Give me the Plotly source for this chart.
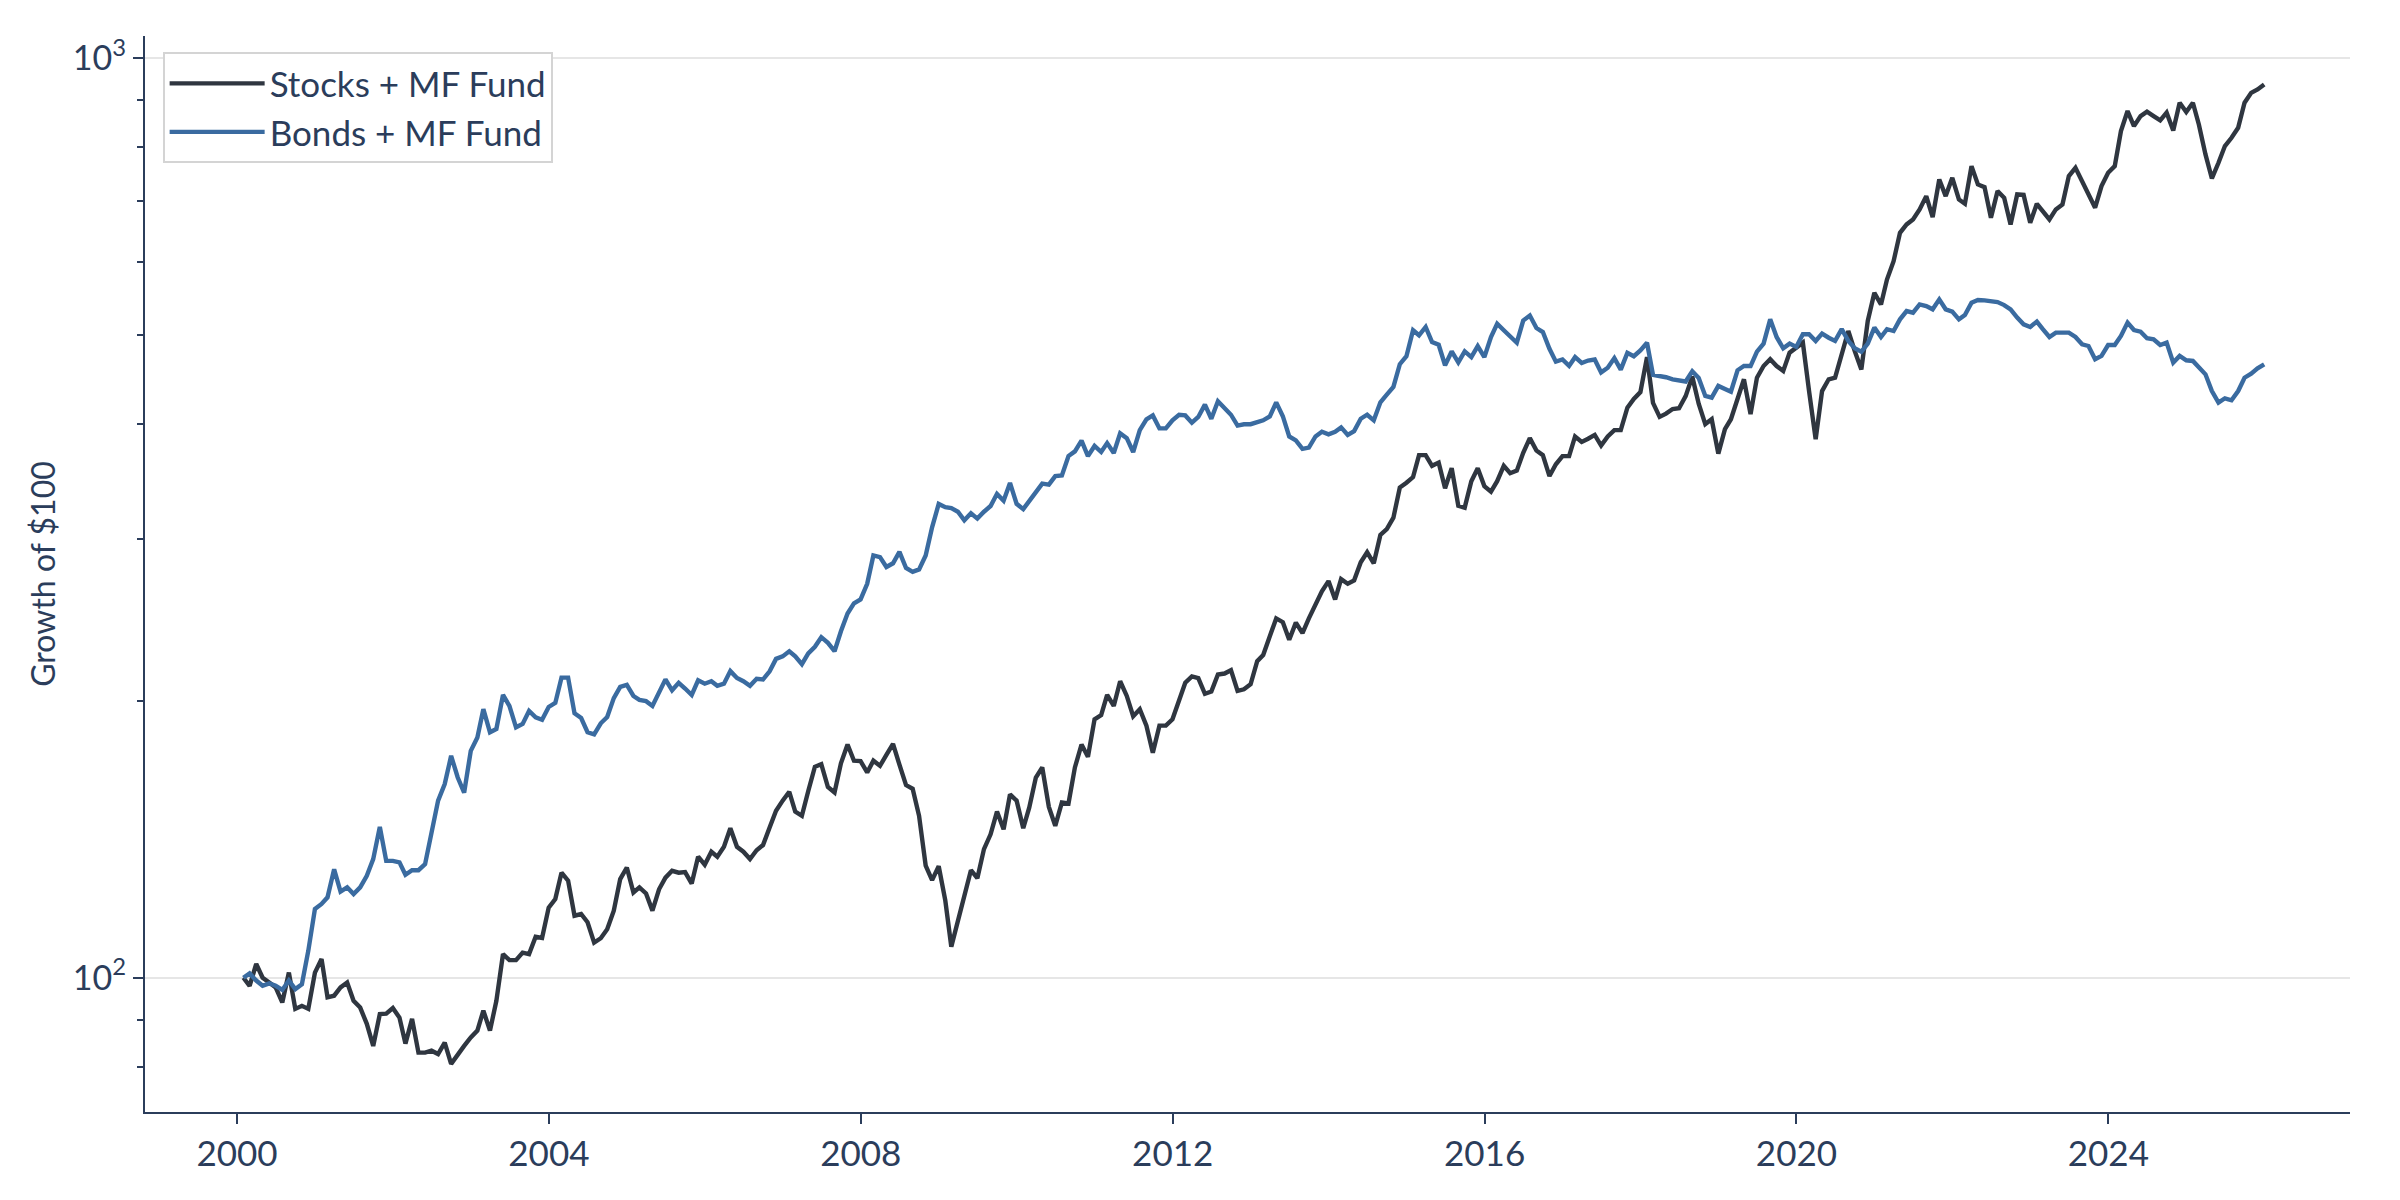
import pandas as pd
import plotly.graph_objects as go

# Monthly growth of $100, month-ends Jan-2000 .. Dec-2025
START = "2000-01-31"

stocks = [
    100.0, 98.0, 103.5, 100.0, 98.8, 97.6, 94.0, 101.3, 92.5, 93.2, 92.5, 101.3,
    104.8, 95.2, 95.6, 97.6, 98.8, 94.4, 92.8, 89.1, 84.3, 91.3, 91.4, 92.7,
    90.5, 84.8, 90.2, 82.9, 82.9, 83.3, 82.6, 85.0, 80.6, 82.6, 84.3, 86.1,
    87.6, 92.1, 87.6, 94.4, 106.1, 104.5, 104.5, 106.5, 106.1, 110.8, 110.5, 119.2,
    121.8, 130.1, 127.5, 116.8, 117.3, 114.9, 109.2, 110.4, 112.9, 118.3, 128.0, 131.8,
    123.8, 125.4, 123.5, 118.3, 124.8, 128.5, 130.7, 130.1, 130.3, 126.6, 135.4, 132.7,
    137.1, 135.4, 138.8, 145.4, 138.8, 137.1, 134.6, 137.6, 139.4, 145.7, 151.9, 155.8,
    159.3, 151.6, 150.0, 159.6, 169.6, 170.7, 161.2, 159.0, 171.1, 179.3, 172.2, 172.0,
    167.2, 172.2, 170.0, 174.7, 179.6, 170.5, 162.0, 160.5, 150.0, 132.4, 127.7, 132.2,
    121.3, 108.1, 114.9, 122.8, 130.9, 128.3, 138.0, 143.2, 151.6, 145.0, 158.3, 155.8,
    145.4, 153.1, 165.1, 169.3, 153.4, 146.3, 155.1, 154.7, 169.3, 179.3, 173.9, 191.0,
    193.0, 203.0, 197.5, 210.1, 202.5, 192.5, 195.9, 188.0, 175.7, 188.0, 188.0, 191.0,
    199.9, 209.3, 212.7, 211.8, 203.6, 204.8, 213.7, 214.2, 216.0, 205.1, 205.9, 208.5,
    220.9, 224.4, 235.2, 245.9, 243.6, 233.1, 243.3, 237.0, 245.9, 254.9, 263.1, 270.0,
    257.9, 271.3, 268.2, 270.5, 283.0, 290.2, 282.3, 303.1, 307.6, 316.5, 341.2, 345.4,
    350.3, 370.1, 370.1, 360.3, 363.2, 340.6, 358.2, 326.0, 324.5, 346.7, 358.2, 342.5,
    337.8, 346.7, 360.3, 353.7, 356.0, 372.2, 386.2, 374.4, 370.1, 351.2, 361.7, 369.2,
    369.2, 387.8, 382.5, 385.6, 389.3, 379.1, 387.8, 394.0, 394.0, 416.8, 426.1, 433.4,
    473.0, 421.8, 407.3, 410.6, 415.4, 416.2, 429.0, 450.5, 421.0, 400.0, 404.9, 371.5,
    395.0, 404.9, 427.4, 447.5, 410.1, 449.3, 462.6, 470.5, 462.6, 456.9, 478.4, 484.4,
    490.5, 434.5, 385.1, 434.5, 447.5, 449.3, 478.4, 505.0, 480.4, 458.7, 517.8, 555.7,
    539.7, 574.5, 601.5, 645.8, 659.5, 667.8, 684.7, 707.9, 671.8, 738.0, 707.9, 741.1,
    702.1, 694.5, 763.1, 728.9, 724.0, 670.6, 716.8, 705.0, 659.5, 710.9, 710.0, 662.2,
    694.5, 681.8, 667.8, 684.7, 693.3, 744.3, 759.9, 734.9, 710.9, 687.6, 725.8, 750.6,
    763.1, 833.1, 876.0, 843.6, 865.0, 874.6, 865.0, 855.7, 872.4, 834.5, 894.3, 873.9,
    894.3, 847.1, 785.8, 739.9, 769.5, 802.4, 819.3, 840.0, 894.3, 916.9, 924.7, 936.3,
]

bonds = [
    100.0, 101.1, 99.3, 98.0, 98.6, 98.0, 97.0, 99.3, 97.2, 98.4, 107.0, 118.8,
    120.3, 122.3, 131.2, 124.1, 125.4, 123.3, 125.4, 129.1, 134.6, 145.9, 134.0, 134.0,
    133.5, 129.4, 130.9, 130.9, 132.9, 144.4, 155.8, 162.4, 174.3, 165.1, 159.0, 176.5,
    182.5, 195.9, 184.9, 186.4, 203.0, 197.5, 187.2, 188.8, 195.0, 191.9, 190.8, 197.0,
    199.0, 212.0, 212.0, 193.9, 191.6, 184.9, 183.9, 189.1, 192.1, 201.4, 207.2, 208.2,
    202.5, 200.5, 199.9, 197.5, 204.2, 211.1, 205.4, 209.3, 206.3, 203.0, 210.6, 208.8,
    210.1, 207.7, 208.8, 215.5, 211.8, 210.1, 207.7, 211.4, 211.0, 215.4, 222.2, 223.6,
    226.5, 223.6, 219.3, 225.3, 229.0, 234.6, 231.3, 226.5, 238.1, 248.9, 255.3, 257.9,
    268.2, 287.9, 286.7, 279.7, 282.3, 290.5, 279.0, 276.3, 278.0, 287.9, 308.9, 327.5,
    324.9, 324.1, 321.2, 314.4, 319.9, 315.7, 321.2, 325.8, 335.9, 330.2, 345.2, 327.6,
    323.3, 329.4, 336.4, 344.6, 343.8, 351.2, 351.8, 369.2, 373.6, 383.7, 369.2, 378.7,
    373.0, 381.4, 372.1, 390.8, 386.2, 373.0, 394.0, 404.8, 408.8, 395.7, 395.7, 403.8,
    409.5, 408.8, 401.4, 407.2, 420.0, 405.4, 423.5, 416.8, 409.5, 398.5, 399.8, 399.9,
    401.4, 403.8, 407.8, 422.4, 408.0, 387.8, 384.0, 376.0, 377.2, 387.8, 392.4, 389.9,
    392.4, 396.7, 389.3, 393.0, 405.4, 409.5, 403.8, 422.4, 430.6, 439.1, 464.7, 474.1,
    505.9, 499.6, 510.1, 491.2, 487.9, 463.5, 479.8, 466.9, 479.8, 473.0, 486.3, 473.0,
    497.5, 514.3, 505.9, 497.5, 490.4, 518.4, 524.9, 508.8, 503.7, 483.0, 467.7, 470.2,
    462.7, 473.0, 466.1, 469.0, 470.2, 455.3, 460.6, 471.9, 458.5, 478.1, 474.1, 481.1,
    490.4, 452.4, 451.2, 449.8, 447.4, 446.5, 445.0, 456.5, 449.0, 429.2, 427.4, 440.1,
    436.4, 433.8, 457.7, 462.6, 462.6, 479.6, 489.3, 520.0, 497.5, 483.6, 489.3, 485.3,
    500.9, 500.9, 492.6, 501.8, 496.6, 492.6, 507.3, 492.6, 483.6, 479.6, 489.3, 509.4,
    497.5, 507.3, 505.0, 520.0, 530.9, 528.7, 539.8, 537.6, 533.2, 546.6, 533.2, 530.1,
    520.0, 525.7, 542.1, 545.7, 545.3, 544.3, 542.9, 538.9, 533.2, 522.2, 513.6, 510.2,
    517.0, 507.3, 497.5, 503.0, 502.6, 503.0, 497.5, 488.5, 486.4, 470.5, 474.5, 487.6,
    487.6, 498.8, 515.7, 506.2, 504.1, 495.9, 494.7, 487.6, 490.5, 466.6, 474.5, 469.3,
    468.5, 460.7, 453.1, 434.5, 422.1, 426.7, 424.6, 434.5, 449.3, 453.8, 459.9, 464.6,
]

series_names = ["Stocks + MF Fund", "Bonds + MF Fund"]
series_colors = ["#2f3640", "#3a6ba0"]

y_major = [100, 1000]
y_major_text = ["10<sup>2</sup>", "10<sup>3</sup>"]
y_minor = [80, 90, 200, 300, 400, 500, 600, 700, 800, 900]

dates = pd.date_range(START, periods=len(stocks), freq="ME")

TEXT = "#2b3d5b"
FONT = "Lato, Inter, sans-serif"

fig = go.Figure()
for name, vals, col in zip(series_names, [stocks, bonds], series_colors):
    fig.add_trace(go.Scatter(x=dates, y=vals, mode="lines", name=name,
                             line=dict(color=col, width=4.4)))

fig.update_layout(
    width=2400, height=1200,
    margin=dict(l=137, r=58, t=28, b=96),
    paper_bgcolor="white", plot_bgcolor="white",
    font=dict(family=FONT, size=32, color=TEXT),
    showlegend=True,
    legend=dict(x=0.008, y=0.985, xanchor="left", yanchor="top",
                bgcolor="white", bordercolor="#d4d4d4", borderwidth=2,
                font=dict(size=35, color=TEXT), itemwidth=95,
                tracegroupgap=0),
    xaxis=dict(
        type="date",
        range=["1998-10-27", "2027-02-06"],
        tick0="2000-01-01", dtick="M48", tickformat="%Y",
        ticks="outside", ticklen=10, tickwidth=2, tickcolor=TEXT,
        showline=True, linecolor=TEXT, linewidth=2.2,
        showgrid=False, zeroline=False,
        tickfont=dict(size=35, color=TEXT),
    ),
    yaxis=dict(
        type="log",
        range=[1.854, 3.0241],
        tickmode="array", tickvals=y_major, ticktext=y_major_text,
        ticks="outside", ticklen=10, tickwidth=2, tickcolor=TEXT,
        showline=True, linecolor=TEXT, linewidth=2.2,
        showgrid=True, gridcolor="#e6e6e6", gridwidth=2,
        zeroline=False,
        tickfont=dict(size=34, color=TEXT),
        title=dict(text="Growth of $100", font=dict(size=32, color=TEXT), standoff=8),
        minor=dict(tickmode="array", tickvals=y_minor, ticks="outside",
                   ticklen=6, tickwidth=1.6, tickcolor=TEXT, showgrid=False),
    ),
)

fig.write_html("out.html")
